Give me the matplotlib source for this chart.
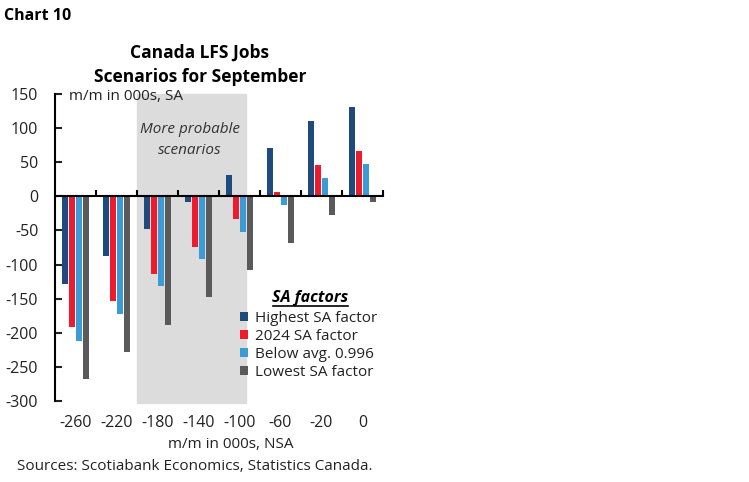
import matplotlib
matplotlib.use("Agg")
import matplotlib.pyplot as plt
import matplotlib.transforms as mtransforms
import numpy as np
from matplotlib.patches import Patch
from matplotlib.lines import Line2D

plt.rcParams['font.family'] = ['Open Sans', 'DejaVu Sans']
plt.rcParams['axes.unicode_minus'] = False

# data (000s, m/m)
nsa_labels = ["-260", "-220", "-180", "-140", "-100", "-60", "-20", "0"]
highest_sa = [-128, -88, -48, -8, 31, 71, 111, 131]
sa_2024 = [-192, -153, -114, -74, -33, 6, 46, 66]
below_avg = [-212, -172, -132, -92, -52, -12, 27, 47]
lowest_sa = [-268, -228, -188, -148, -108, -68, -28, -8]
series_names = ["Highest SA factor", "2024 SA factor", "Below avg. 0.996", "Lowest SA factor"]
colors = ["#1f4a7e", "#ec1c2e", "#3a9bd5", "#5a5a5a"]

W, H = 749, 482
fig = plt.figure(figsize=(W / 100, H / 100), dpi=100)


def fx(x):
    return x / W


def fy(y):
    return 1 - y / H


ax = fig.add_axes([fx(55), fy(401), fx(383) - fx(55), fy(94) - fy(401)])

x = np.arange(len(nsa_labels))
step = 0.17
bw = 0.155
all_series = [highest_sa, sa_2024, below_avg, lowest_sa]
for i, vals in enumerate(all_series):
    ax.bar(x + (i - 1.5) * step, vals, width=bw, color=colors[i], zorder=3)

# shaded "more probable" region
ax.axvspan(1.5, 4.16, ymin=-0.005, ymax=1, color="#dcdcdc", zorder=0, clip_on=False)

ax.set_xlim(-0.5, 7.5)
ax.set_ylim(-300, 150)
ax.set_yticks(np.arange(-300, 151, 50))
ax.set_yticklabels([str(v) for v in range(-300, 151, 50)], fontsize=11.5)
ax.tick_params(axis='y', direction='in', length=5, width=1.5, pad=12, colors="#222222")

ax.spines['top'].set_visible(False)
ax.spines['right'].set_visible(False)
ax.spines['left'].set_linewidth(1.5)
ax.spines['bottom'].set_position(('data', 0))
ax.spines['bottom'].set_linewidth(1.5)
ax.spines['bottom'].set_zorder(4)

ax.set_xticks(np.arange(0.5, 7.6, 1))
ax.set_xticklabels([])
ax.tick_params(axis='x', direction='in', length=4, width=1.5)

xlab_tr = mtransforms.blended_transform_factory(ax.transData, fig.transFigure)
for xi, lab in zip(x, nsa_labels):
    ax.text(xi, fy(423), lab, transform=xlab_tr, ha='center', va='center',
            fontsize=11.5, color="#222222")

# texts
fig.text(fx(4), fy(16), "Chart 10", fontsize=11.5, fontweight='bold', ha='left', va='center')
fig.text(fx(199), fy(53), "Canada LFS Jobs", fontsize=12.5, fontweight='bold', ha='center', va='center')
fig.text(fx(200), fy(77), "Scenarios for September", fontsize=12.5, fontweight='bold', ha='center', va='center')
fig.text(fx(69), fy(97), "m/m in 000s, SA", fontsize=11, ha='left', va='center', color="#222222")
fig.text(fx(190), fy(130), "More probable", fontsize=11, style='italic', ha='center', va='center', color="#333333")
fig.text(fx(190), fy(151), "scenarios", fontsize=11, style='italic', ha='center', va='center', color="#333333")
fig.text(fx(231), fy(445), "m/m in 000s, NSA", fontsize=11, ha='center', va='center', color="#222222")
fig.text(fx(17), fy(467), "Sources: Scotiabank Economics, Statistics Canada.", fontsize=11,
         ha='left', va='center', color="#222222")

# legend
handles = [Patch(facecolor=c, edgecolor='none') for c in colors]
leg = ax.legend(handles, series_names, loc='upper left', bbox_to_anchor=(fx(240), fy(311)),
                bbox_transform=fig.transFigure, frameon=False, fontsize=11,
                handlelength=0.55, handleheight=0.55, handletextpad=0.4, labelspacing=0.2,
                borderpad=0, borderaxespad=0)
for t in leg.get_texts():
    t.set_color("#222222")
fig.text(fx(310), fy(298), "SA factors", fontsize=11.5, fontweight='bold', style='italic',
         ha='center', va='center')
fig.add_artist(Line2D([fx(273), fx(348)], [fy(306), fy(306)], color='black', lw=1.2,
                      transform=fig.transFigure))

fig.savefig("out.png", dpi=100)
